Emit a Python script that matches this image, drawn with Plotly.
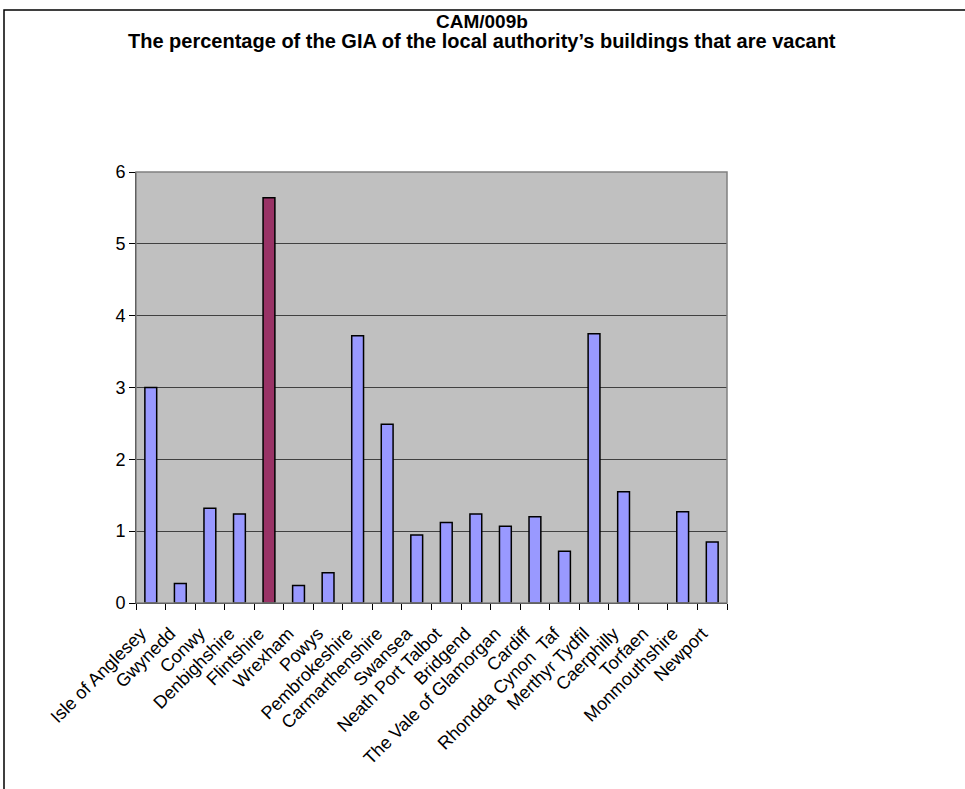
import plotly.graph_objects as go

categories = ["Isle of Anglesey", "Gwynedd", "Conwy", "Denbighshire", "Flintshire",
              "Wrexham", "Powys", "Pembrokeshire", "Carmarthenshire", "Swansea",
              "Neath Port Talbot", "Bridgend", "The Vale of Glamorgan", "Cardiff",
              "Rhondda Cynon  Taf", "Merthyr Tydfil", "Caerphilly", "Torfaen",
              "Monmouthshire", "Newport"]
values = [3.0, 0.27, 1.32, 1.24, 5.64, 0.245, 0.42, 3.72, 2.49, 0.945,
          1.12, 1.24, 1.07, 1.20, 0.72, 3.75, 1.55, None, 1.27, 0.85]
highlight = "Flintshire"
y_ticks = [0, 1, 2, 3, 4, 5, 6]

colors = ["#993366" if c == highlight else "#9999FF" for c in categories]

W, H = 965, 789
L, R, T, B = 136, 727, 172, 603

fig = go.Figure(go.Bar(
    x=categories, y=values,
    marker=dict(color=colors, line=dict(color="black", width=1.5)),
    width=0.4,
))

def px_x(p):
    return (p - L) / (R - L)

def px_y(p):
    return (B - p) / (B - T)

fig.update_layout(
    width=W, height=H,
    margin=dict(l=L, r=W - R, t=T, b=H - B, pad=0),
    paper_bgcolor="white",
    plot_bgcolor="#C0C0C0",
    showlegend=False,
    font=dict(family="Arial, Liberation Sans, sans-serif", size=13, color="black"),
    xaxis=dict(
        type="category", tickangle=-45, tickson="boundaries",
        ticks="outside", ticklen=6, tickcolor="black", tickwidth=1,
        showline=True, linecolor="black", linewidth=1,
        showgrid=False, tickfont=dict(size=18), range=[-0.5, len(categories) - 0.5],
        ticklabelstandoff=12, ticklabelshift=-10,
    ),
    yaxis=dict(
        range=[0, 6], tickvals=y_ticks, ticks="outside", ticklen=6,
        tickcolor="black", tickwidth=1, showline=True, linecolor="black", linewidth=1,
        showgrid=True, gridcolor="#404040", gridwidth=1, zeroline=False,
        tickfont=dict(size=18),
    ),
    shapes=[
        dict(type="rect", xref="paper", yref="paper", x0=0, x1=1, y0=0, y1=1,
             line=dict(color="#808080", width=1.5), layer="above"),
        dict(type="rect", xref="paper", yref="paper",
             x0=px_x(4), x1=px_x(975), y0=px_y(800), y1=px_y(10),
             line=dict(color="black", width=1.5)),
    ],
    annotations=[
        dict(text="<b>CAM/009b</b>", xref="paper", yref="paper",
             x=px_x(482), y=px_y(21), xanchor="center", yanchor="middle",
             showarrow=False, font=dict(size=19)),
        dict(text="<b>The percentage of the GIA of the local authority\u2019s buildings that are vacant</b>",
             xref="paper", yref="paper",
             x=px_x(482), y=px_y(41), xanchor="center", yanchor="middle",
             showarrow=False, font=dict(size=20)),
    ],
)

fig.write_html("out.html", config={"displayModeBar": False},
               post_script="document.body.style.margin='0';document.documentElement.style.overflow='hidden';")
